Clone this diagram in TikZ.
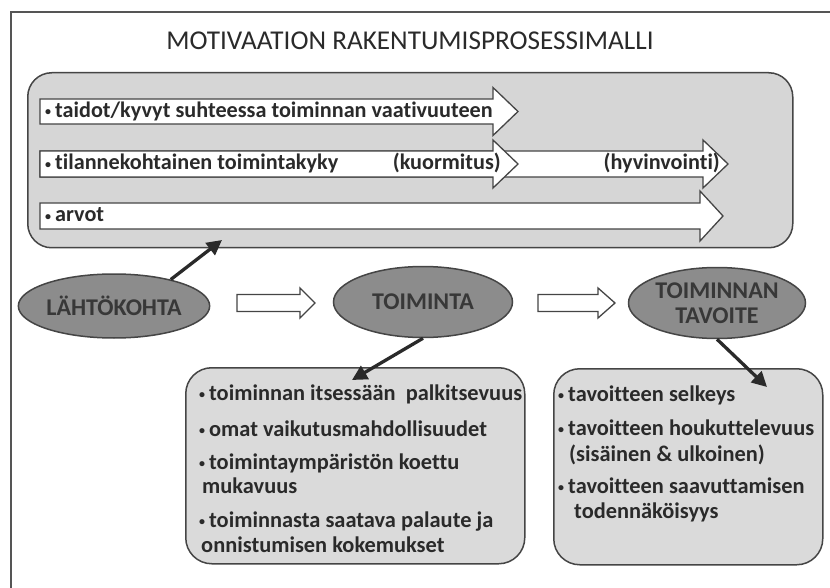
\documentclass[tikz,border=0pt]{standalone}
\usepackage{fontspec}
\setmainfont{Carlito}[Ligatures=NoCommon]
\usetikzlibrary{shapes.geometric,arrows.meta}
\definecolor{framec}{HTML}{555555}
\definecolor{panelc}{HTML}{D6D6D6}
\definecolor{boxc}{HTML}{DADADA}
\definecolor{ellc}{HTML}{8C8C8C}
\definecolor{edgec}{HTML}{454545}
\definecolor{txtc}{HTML}{2A2A2A}
\definecolor{elltxt}{HTML}{383838}
\newcommand\blkarrow[6]{%
  \draw[barrow] (#1,#4-#5) -- (#2,#4-#5) -- (#2,#4-#6) -- (#3,#4) -- (#2,#4+#6) -- (#2,#4+#5) -- (#1,#4+#5) -- cycle;}
\newcommand\bul{{\fontsize{12}{12}\selectfont\raisebox{1.8pt}{•}}\hspace{4pt}}
\begin{document}
\begin{tikzpicture}[x=1pt,y=-1pt,
  panel/.style={draw=edgec, line width=1.5pt, fill=panelc, rounded corners=24pt, inner sep=0pt, anchor=north west},
  infobox/.style={draw=edgec, line width=1.5pt, fill=boxc, rounded corners=26pt, inner sep=0pt, anchor=north west},
  barrow/.style={draw=edgec, line width=1.3pt, fill=white, line join=miter},
  oval/.style={ellipse, draw=edgec, line width=1.5pt, fill=ellc, inner sep=0pt, font=\fontsize{24}{25}\selectfont\bfseries, text=elltxt, align=center},
  rowtxt/.style={anchor=base west, inner sep=0pt, font=\fontsize{22.2}{24}\selectfont\bfseries, text=txtc},
  boxtxt/.style={anchor=base west, inner sep=0pt, font=\fontsize{22.4}{24}\selectfont\bfseries, text=txtc},
  conn/.style={draw=txtc, line width=3.3pt, -{Triangle[length=15pt,width=15pt]}}
]
\useasboundingbox (0,0) rectangle (830,588);
\fill[white] (0,0) rectangle (830,588);
% frame
\draw[framec, line width=1.8pt] (11,588) -- (11,12) -- (830,12);
% title
\node[font=\fontsize{27.2}{30}\selectfont, text=txtc, inner sep=0pt] (title) at (410,41) {MOTIVAATION RAKENTUMISPROSESSIMALLI};
% top panel
\node[panel, minimum width=765pt, minimum height=175pt] (big) at (27,72) {};
\blkarrow{40}{493}{518}{111.5}{12.5}{24}
\blkarrow{40}{703}{728}{164}{13}{24}
\blkarrow{40}{493}{518}{164}{13}{24}
\blkarrow{40}{700}{723}{216}{13}{25}
\node[rowtxt] (r1) at (45,117.5) {\bul taidot/kyvyt suhteessa toiminnan vaativuuteen};
\node[rowtxt] (r2) at (45,170) {\bul tilannekohtainen toimintakyky};
\node[rowtxt, anchor=base east] (r2b) at (501,170) {(kuormitus)};
\node[rowtxt, anchor=base east] (r2c) at (720,170) {(hyvinvointi)};
\node[rowtxt] (r3) at (45,222) {\bul arvot};
% ellipses
\node[oval, minimum width=178pt, minimum height=64pt] (lah) at (114,306) {LÄHTÖKOHTA};
\node[oval, minimum width=179pt, minimum height=71pt] (toi) at (423,302) {TOIMINTA};
\node[oval, minimum width=177pt, minimum height=71pt] (tav) at (717,303) {TOIMINNAN\\TAVOITE};
\blkarrow{237}{300}{315}{303}{8.5}{15}
\blkarrow{538}{598}{615}{303}{8.5}{15}
% bottom boxes
\node[infobox, minimum width=339pt, minimum height=196pt] (b1) at (185,367) {};
\node[infobox, minimum width=269pt, minimum height=196pt] (b2) at (553,368) {};
\node[boxtxt] (b1a) at (199,400.5) {\bul toiminnan itsessään~ palkitsevuus};
\node[boxtxt] (b1b) at (199,436.5) {\bul omat vaikutusmahdollisuudet};
\node[boxtxt] (b1c) at (199,469.5) {\bul toimintaympäristön koettu};
\node[boxtxt] (b1d) at (202,493.5) {mukavuus};
\node[boxtxt] (b1e) at (199,527.5) {\bul toiminnasta saatava palaute ja};
\node[boxtxt] (b1f) at (201,552.5) {onnistumisen kokemukset};
\node[boxtxt] (b2a) at (558,401.5) {\bul tavoitteen selkeys};
\node[boxtxt] (b2b) at (558,435.5) {\bul tavoitteen houkuttelevuus};
\node[boxtxt] (b2c) at (569,461.5) {(sisäinen \& ulkoinen)};
\node[boxtxt] (b2d) at (558,493.5) {\bul tavoitteen saavuttamisen};
\node[boxtxt] (b2e) at (574,518.5) {todennäköisyys};
% connectors
\coordinate (t1) at (222,240);
\coordinate (t2) at (352,380);
\coordinate (t3) at (767,387);
\draw[conn] (lah.25) -- (t1);
\draw[conn] (toi.south) -- (t2);
\draw[conn] (tav.south) -- (t3);
\end{tikzpicture}
\end{document}
